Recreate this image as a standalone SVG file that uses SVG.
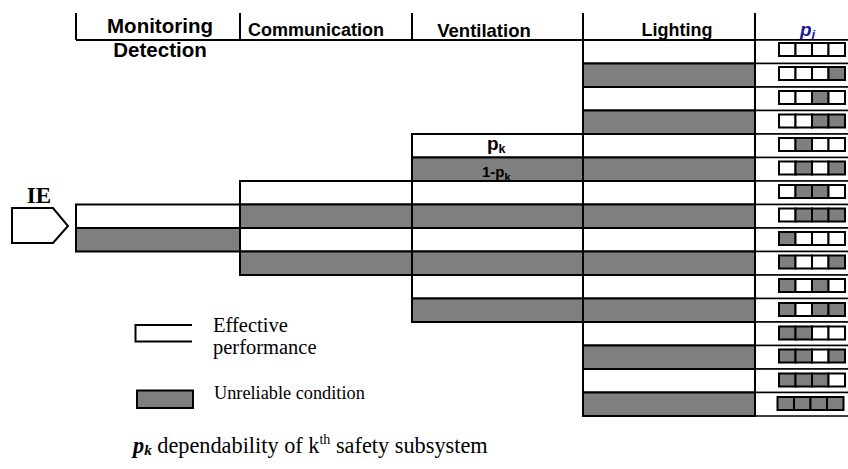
<svg xmlns="http://www.w3.org/2000/svg" width="848" height="469" viewBox="0 0 848 469">
  <style>
    .w { fill: #ffffff; stroke: #000; stroke-width: 2; }
    .g { fill: #7f7f7f; stroke: #000; stroke-width: 2; }
    .pc { fill: #ffffff; stroke: #000; stroke-width: 1.5; }
    .ln { stroke: #000; stroke-width: 2; fill: none; }
    .hd { font-family: "Liberation Sans", Arial, sans-serif; font-weight: bold; fill: #000; text-anchor: middle; }
    .tm { font-family: "Liberation Serif", "Times New Roman", serif; fill: #000; }
    .lb { font-family: "Liberation Sans", Arial, sans-serif; font-weight: bold; fill: #000; }
  </style>
  <defs>
    <clipPath id="cell-fail">
      <rect x="412" y="157.5" width="171" height="23.5"/>
    </clipPath>
  </defs>
  <rect width="848" height="469" fill="#ffffff"/>

  <!-- column headings -->
  <g id="header">
    <text class="hd" x="160" y="33" font-size="20.5">Monitoring</text>
    <text class="hd" x="160" y="57" font-size="20.5">Detection</text>
    <text class="hd" x="316" y="36" font-size="18">Communication</text>
    <text class="hd" x="484" y="37" font-size="18.5">Ventilation</text>
    <text class="hd" x="677" y="36" font-size="18">Lighting</text>
    <text x="800" y="36" font-family="Liberation Sans, Arial, sans-serif" font-weight="bold" font-style="italic" font-size="19" fill="#1a1a9a">p<tspan font-size="13" dy="3">i</tspan></text>
  </g>

  <!-- heading separators and rule -->
  <g id="connectors">
    <line class="ln" x1="76" y1="13" x2="76" y2="40" stroke-width="1.5"/>
    <line class="ln" x1="240" y1="13" x2="240" y2="40"/>
    <line class="ln" x1="412" y1="13" x2="412" y2="40"/>
    <line class="ln" x1="583" y1="13" x2="583" y2="40"/>
    <line class="ln" x1="755" y1="13" x2="755" y2="416"/>
    <line class="ln" x1="76" y1="40" x2="240" y2="40" stroke-width="1.5"/>
    <line class="ln" x1="240" y1="40" x2="848" y2="40"/>
  </g>

  <!-- initiating event -->
  <g id="IE">
    <text x="39" y="203" font-family="Liberation Serif, 'Times New Roman', serif" font-weight="bold" font-size="23" text-anchor="middle">IE</text>
    <polygon class="w" points="12,208 53,208 68,226 53,243 12,243"/>
  </g>

  <!-- Monitoring / Detection -->
  <g id="monitoring">
    <rect class="w" x="76" y="204.5" width="164" height="23.5"/>
    <rect class="g" x="76" y="228" width="164" height="23.5"/>
  </g>

  <!-- Communication -->
  <g id="communication">
    <rect class="w" x="240" y="181" width="172" height="23.5"/>
    <rect class="g" x="240" y="204.5" width="172" height="23.5"/>
    <rect class="w" x="240" y="228" width="172" height="23.5"/>
    <rect class="g" x="240" y="251.5" width="172" height="23.5"/>
  </g>

  <!-- Ventilation -->
  <g id="ventilation">
    <rect class="w" x="412" y="134" width="171" height="23.5"/>
    <rect class="g" x="412" y="157.5" width="171" height="23.5"/>
    <rect class="w" x="412" y="181" width="171" height="23.5"/>
    <rect class="g" x="412" y="204.5" width="171" height="23.5"/>
    <rect class="w" x="412" y="228" width="171" height="23.5"/>
    <rect class="g" x="412" y="251.5" width="171" height="23.5"/>
    <rect class="w" x="412" y="275" width="171" height="23.5"/>
    <rect class="g" x="412" y="298.5" width="171" height="23.5"/>
    <text class="lb" x="487" y="149.5" font-size="19">p<tspan font-size="12.5" dy="3">k</tspan></text>
    <text class="lb" x="482" y="177" font-size="15" clip-path="url(#cell-fail)">1-p<tspan font-size="11" dy="4">k</tspan></text>
  </g>

  <!-- Lighting -->
  <g id="lighting">
    <rect class="w" x="583" y="40" width="172" height="23.5"/>
    <rect class="g" x="583" y="63.5" width="172" height="23.5"/>
    <rect class="w" x="583" y="87" width="172" height="23.5"/>
    <rect class="g" x="583" y="110.5" width="172" height="23.5"/>
    <rect class="w" x="583" y="134" width="172" height="23.5"/>
    <rect class="g" x="583" y="157.5" width="172" height="23.5"/>
    <rect class="w" x="583" y="181" width="172" height="23.5"/>
    <rect class="g" x="583" y="204.5" width="172" height="23.5"/>
    <rect class="w" x="583" y="228" width="172" height="23.5"/>
    <rect class="g" x="583" y="251.5" width="172" height="23.5"/>
    <rect class="w" x="583" y="275" width="172" height="23.5"/>
    <rect class="g" x="583" y="298.5" width="172" height="23.5"/>
    <rect class="w" x="583" y="322" width="172" height="23.5"/>
    <rect class="g" x="583" y="345.5" width="172" height="23.5"/>
    <rect class="w" x="583" y="369" width="172" height="23.5"/>
    <rect class="g" x="583" y="392.5" width="172" height="23.5"/>
  </g>

  <!-- sequence outcome column p_i -->
  <g id="outcomes">
    <rect class="pc" x="755" y="40" width="94" height="23.5"/>
    <rect class="pc" x="755" y="63.5" width="94" height="23.5"/>
    <rect class="pc" x="755" y="87" width="94" height="23.5"/>
    <rect class="pc" x="755" y="110.5" width="94" height="23.5"/>
    <rect class="pc" x="755" y="134" width="94" height="23.5"/>
    <rect class="pc" x="755" y="157.5" width="94" height="23.5"/>
    <rect class="pc" x="755" y="181" width="94" height="23.5"/>
    <rect class="pc" x="755" y="204.5" width="94" height="23.5"/>
    <rect class="pc" x="755" y="228" width="94" height="23.5"/>
    <rect class="pc" x="755" y="251.5" width="94" height="23.5"/>
    <rect class="pc" x="755" y="275" width="94" height="23.5"/>
    <rect class="pc" x="755" y="298.5" width="94" height="23.5"/>
    <rect class="pc" x="755" y="322" width="94" height="23.5"/>
    <rect class="pc" x="755" y="345.5" width="94" height="23.5"/>
    <rect class="pc" x="755" y="369" width="94" height="23.5"/>
    <rect class="pc" x="755" y="392.5" width="94" height="23.5"/>
    <line class="ln" x1="755" y1="40" x2="755" y2="417"/>

    <!-- 4-bit state strips, one per sequence -->
    <g id="seq1"><rect class="w" x="779" y="43" width="16.5" height="13"/><rect class="w" x="795.5" y="43" width="16.5" height="13"/><rect class="w" x="812" y="43" width="16.5" height="13"/><rect class="w" x="828.5" y="43" width="16.5" height="13"/></g>
    <g id="seq2"><rect class="w" x="779" y="67" width="16.5" height="13"/><rect class="w" x="795.5" y="67" width="16.5" height="13"/><rect class="w" x="812" y="67" width="16.5" height="13"/><rect class="g" x="828.5" y="67" width="16.5" height="13"/></g>
    <g id="seq3"><rect class="w" x="779" y="91" width="16.5" height="13"/><rect class="w" x="795.5" y="91" width="16.5" height="13"/><rect class="g" x="812" y="91" width="16.5" height="13"/><rect class="w" x="828.5" y="91" width="16.5" height="13"/></g>
    <g id="seq4"><rect class="w" x="779" y="114.5" width="16.5" height="13"/><rect class="w" x="795.5" y="114.5" width="16.5" height="13"/><rect class="g" x="812" y="114.5" width="16.5" height="13"/><rect class="g" x="828.5" y="114.5" width="16.5" height="13"/></g>
    <g id="seq5"><rect class="w" x="779" y="138" width="16.5" height="13"/><rect class="g" x="795.5" y="138" width="16.5" height="13"/><rect class="w" x="812" y="138" width="16.5" height="13"/><rect class="w" x="828.5" y="138" width="16.5" height="13"/></g>
    <g id="seq6"><rect class="w" x="779" y="161.5" width="16.5" height="13"/><rect class="g" x="795.5" y="161.5" width="16.5" height="13"/><rect class="w" x="812" y="161.5" width="16.5" height="13"/><rect class="g" x="828.5" y="161.5" width="16.5" height="13"/></g>
    <g id="seq7"><rect class="w" x="779" y="185" width="16.5" height="13"/><rect class="g" x="795.5" y="185" width="16.5" height="13"/><rect class="g" x="812" y="185" width="16.5" height="13"/><rect class="w" x="828.5" y="185" width="16.5" height="13"/></g>
    <g id="seq8"><rect class="w" x="779" y="208.5" width="16.5" height="13"/><rect class="g" x="795.5" y="208.5" width="16.5" height="13"/><rect class="g" x="812" y="208.5" width="16.5" height="13"/><rect class="g" x="828.5" y="208.5" width="16.5" height="13"/></g>
    <g id="seq9"><rect class="g" x="779" y="232" width="16.5" height="13"/><rect class="w" x="795.5" y="232" width="16.5" height="13"/><rect class="w" x="812" y="232" width="16.5" height="13"/><rect class="w" x="828.5" y="232" width="16.5" height="13"/></g>
    <g id="seq10"><rect class="g" x="779" y="255.5" width="16.5" height="13"/><rect class="w" x="795.5" y="255.5" width="16.5" height="13"/><rect class="w" x="812" y="255.5" width="16.5" height="13"/><rect class="g" x="828.5" y="255.5" width="16.5" height="13"/></g>
    <g id="seq11"><rect class="g" x="779" y="279" width="16.5" height="13"/><rect class="w" x="795.5" y="279" width="16.5" height="13"/><rect class="g" x="812" y="279" width="16.5" height="13"/><rect class="w" x="828.5" y="279" width="16.5" height="13"/></g>
    <g id="seq12"><rect class="g" x="779" y="303" width="16.5" height="13"/><rect class="w" x="795.5" y="303" width="16.5" height="13"/><rect class="g" x="812" y="303" width="16.5" height="13"/><rect class="g" x="828.5" y="303" width="16.5" height="13"/></g>
    <g id="seq13"><rect class="g" x="779" y="326.5" width="16.5" height="13"/><rect class="g" x="795.5" y="326.5" width="16.5" height="13"/><rect class="w" x="812" y="326.5" width="16.5" height="13"/><rect class="w" x="828.5" y="326.5" width="16.5" height="13"/></g>
    <g id="seq14"><rect class="g" x="779" y="349.5" width="16.5" height="13"/><rect class="g" x="795.5" y="349.5" width="16.5" height="13"/><rect class="w" x="812" y="349.5" width="16.5" height="13"/><rect class="g" x="828.5" y="349.5" width="16.5" height="13"/></g>
    <g id="seq15"><rect class="g" x="779" y="373.5" width="16.5" height="13"/><rect class="g" x="795.5" y="373.5" width="16.5" height="13"/><rect class="g" x="812" y="373.5" width="16.5" height="13"/><rect class="w" x="828.5" y="373.5" width="16.5" height="13"/></g>
    <g id="seq16"><rect class="g" x="777.5" y="397" width="16.5" height="13"/><rect class="g" x="794" y="397" width="16.5" height="13"/><rect class="g" x="810.5" y="397" width="16.5" height="13"/><rect class="g" x="827" y="397" width="16.5" height="13"/></g>
  </g>

  <!-- legend -->
  <g id="legend">
    <path class="ln" d="M192,325 H135.5 V341.5 H192" fill="#ffffff"/>
    <text class="tm" x="213" y="331.5" font-size="20.5">Effective</text>
    <text class="tm" x="213" y="353.5" font-size="20.5">performance</text>
    <rect class="g" x="137" y="390.5" width="56" height="17.5"/>
    <text class="tm" x="214" y="398.5" font-size="18.3">Unreliable condition</text>
  </g>

  <!-- caption -->
  <g id="caption">
    <text class="tm" x="133" y="453" font-size="22.3"><tspan font-weight="bold" font-style="italic">p</tspan><tspan font-weight="bold" font-style="italic" font-size="15" dy="2">k</tspan><tspan dy="-2"> dependability of k</tspan><tspan font-size="14" dy="-9">th</tspan><tspan dy="9"> safety subsystem</tspan></text>
  </g>
</svg>
